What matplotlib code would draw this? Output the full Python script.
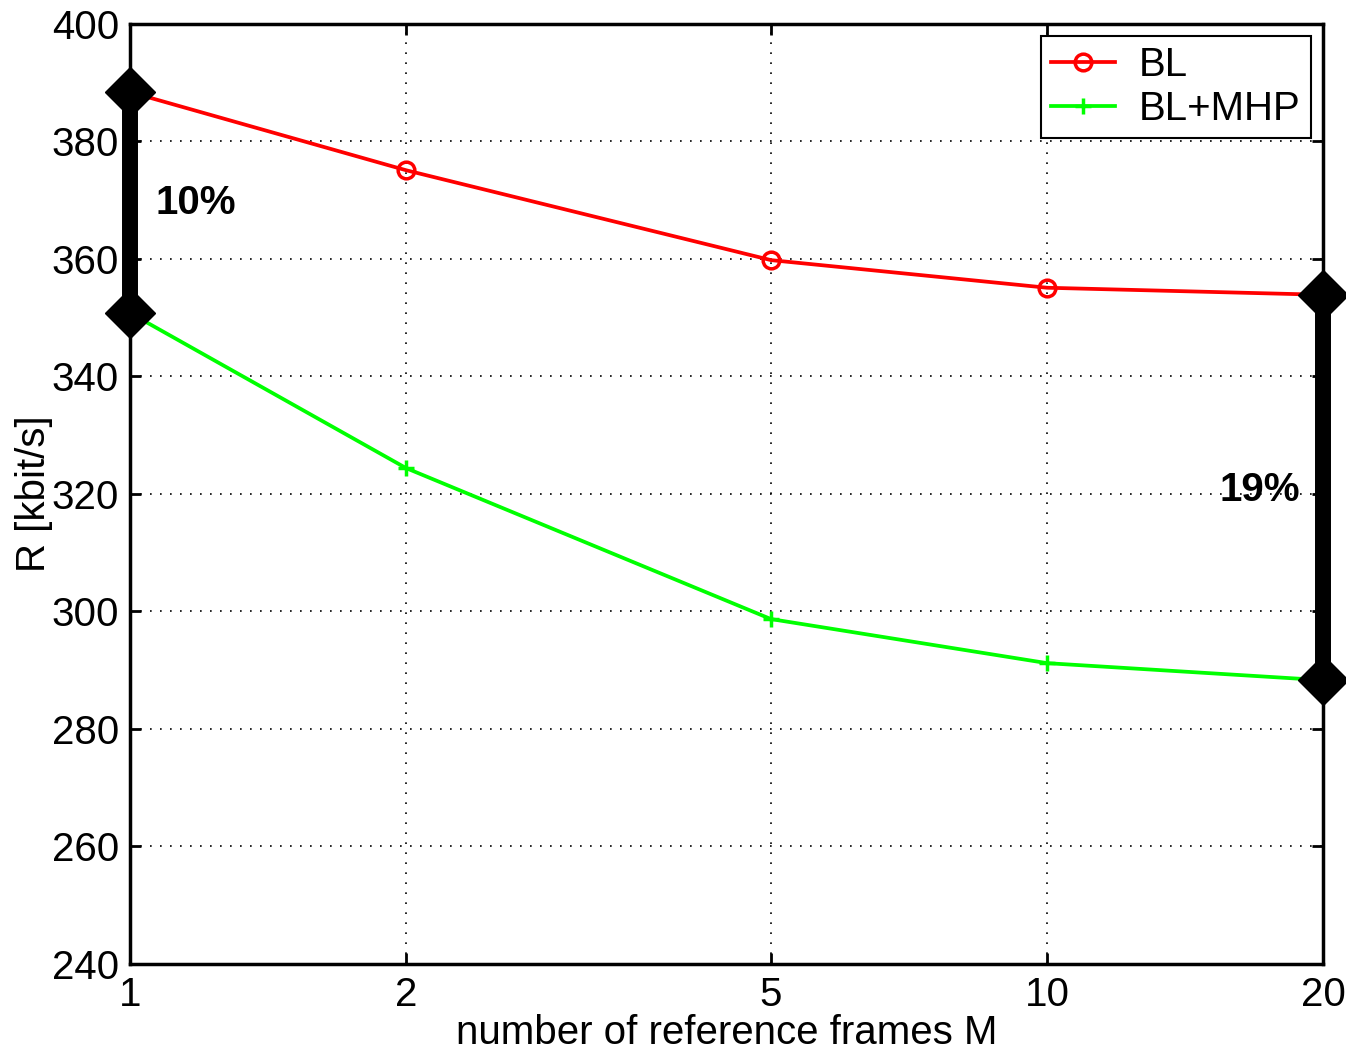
import numpy as np
import matplotlib
matplotlib.use('Agg')
import matplotlib.pyplot as plt
from matplotlib.ticker import FixedLocator, NullLocator

plt.rcParams['font.family'] = ['Liberation Sans', 'DejaVu Sans']

M = [1, 2, 5, 10, 20]
bl = [388.4, 375.1, 359.8, 355.1, 353.9]
bl_mhp = [350.8, 324.4, 298.7, 291.2, 288.3]

fig = plt.figure(figsize=(13.46, 10.55), dpi=100)
ax = fig.add_axes([0.0966, 0.0863, 0.8864, 0.891])

ax.plot(M, bl, color='red', lw=2.7, marker='o', ms=12, mfc='none', mew=2.5, label='BL')
ax.plot(M, bl_mhp, color='#00ff00', lw=2.7, marker='+', ms=12, mew=2.5, label='BL+MHP')

# gain bars
ax.plot([M[0], M[0]], [bl[0], bl_mhp[0]], color='black', lw=11.5, marker='D', ms=25,
        clip_on=False, zorder=5)
ax.plot([M[-1], M[-1]], [bl[-1], bl_mhp[-1]], color='black', lw=11.5, marker='D', ms=25,
        clip_on=False, zorder=5)
ax.text(1.065, 369.5, '10%', fontsize=29, fontweight='bold', va='center', ha='left')
ax.text(18.9, 320.7, '19%', fontsize=29, fontweight='bold', va='center', ha='right')

ax.set_xscale('log')
ax.set_xlim(1, 20)
ax.set_ylim(240, 400)
ax.xaxis.set_major_locator(FixedLocator(M))
ax.xaxis.set_minor_locator(NullLocator())
ax.set_xticklabels([str(m) for m in M])
ax.set_yticks(np.arange(240, 401, 20))

ax.grid(True, color='black', linestyle=(0, (1, 5)), lw=1.2)
ax.tick_params(axis='both', which='both', direction='in', length=8, width=2,
               top=True, right=True, labelsize=29, pad=8)
ax.tick_params(axis='x', pad=9)
for s in ax.spines.values():
    s.set_linewidth(2.5)

ax.set_xlabel('number of reference frames M', fontsize=29, labelpad=0)
ax.set_ylabel('R [kbit/s]', fontsize=29, labelpad=-1)

leg = ax.legend(loc='upper right', fontsize=29, fancybox=False, framealpha=1,
                edgecolor='black', borderaxespad=0.3, handlelength=1.6,
                borderpad=0.25, labelspacing=0.15, handletextpad=0.6)
leg.get_frame().set_linewidth(1.5)

fig.savefig('out.png', dpi=100)
